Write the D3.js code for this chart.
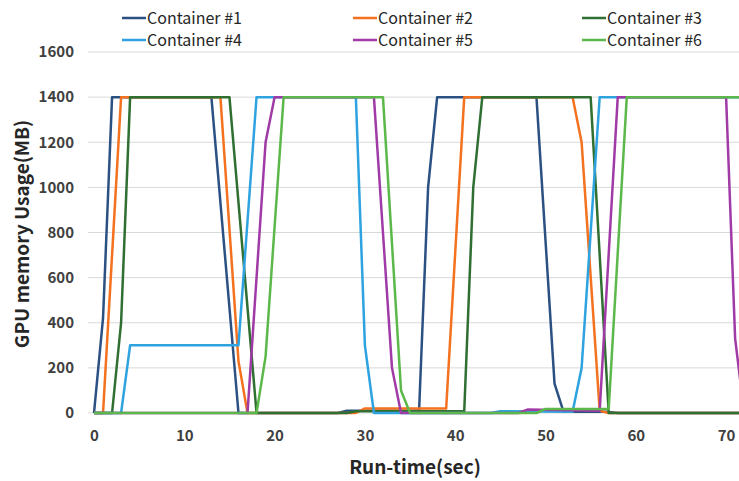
<!DOCTYPE html>
<html>
<head>
<meta charset="utf-8">
<script src="https://cdn.jsdelivr.net/npm/d3@7"></script>
<style>
  body { margin: 0; background: #fff; }
  svg { display: block; font-family: "Noto Sans CJK KR", "Open Sans", sans-serif; }
</style>
</head>
<body>
<figure id="chart" style="margin:0"></figure>
<script>
// [run-time sec, GPU memory MB]
const container1 = [[0,0],[1,420],[2,1400],[13,1400],[16,0],[27,0],[28,10],[36,10],[37,1000],[38,1400],[49,1400],[51,130],[52,5],[57,5],[58,0],[72,0]];
const container2 = [[0,0],[1,0],[2,700],[3,1400],[14,1400],[16,230],[17,0],[29,0],[30,20],[39,20],[41,1400],[53,1400],[54,1200],[56,10],[57,0],[72,0]];
const container3 = [[0,0],[2,0],[3,400],[4,1400],[15,1400],[18,0],[28,0],[29,8],[41,8],[42,1000],[43,1400],[55,1400],[57,0],[72,0]];
const container4 = [[0,0],[3,0],[4,300],[16,300],[18,1400],[29,1400],[30,300],[31,0],[44,0],[45,8],[53,5],[54,200],[56,1400],[72,1400]];
const container5 = [[0,0],[17,0],[19,1200],[20,1400],[31,1400],[33,200],[34,0],[47,0],[48,15],[56,10],[58,1400],[70,1400],[71,330],[72,0]];
const container6 = [[0,0],[18,0],[19,250],[21,1400],[32,1400],[34,100],[35,0],[49,0],[50,18],[57,18],[59,1400],[72,1400]];

const seriesNames = ["Container #1", "Container #2", "Container #3", "Container #4", "Container #5", "Container #6"];
const seriesData = [container1, container2, container3, container4, container5, container6];
const colors = ["#2b5183", "#f3711f", "#2f6f31", "#2ea3e0", "#a03aa6", "#5cb84a"];

const xTicks = [0, 10, 20, 30, 40, 50, 60, 70];
const yTicks = [0, 200, 400, 600, 800, 1000, 1200, 1400, 1600];

const width = 739, height = 481;
const plotLeft = 94, plotBottom = 413, plotTop = 52;

const svg = d3.select("#chart").append("svg")
  .attr("width", width)
  .attr("height", height);

const x = d3.scaleLinear().domain([0, 72]).range([plotLeft, plotLeft + 72 * 9.03]);
const y = d3.scaleLinear().domain([0, 1600]).range([plotBottom, plotTop]);

// gridlines
svg.append("g").selectAll("line")
  .data(yTicks)
  .enter().append("line")
  .attr("x1", 88).attr("x2", width)
  .attr("y1", d => y(d)).attr("y2", d => y(d))
  .attr("stroke", "#d9d9d9")
  .attr("stroke-width", 1);

// axes (labels only)
const yAxis = svg.append("g")
  .attr("transform", "translate(88,0)")
  .call(d3.axisLeft(y).tickValues(yTicks).tickFormat(d3.format("d")).tickSize(0).tickPadding(14));
const xAxis = svg.append("g")
  .attr("transform", "translate(0," + plotBottom + ")")
  .call(d3.axisBottom(x).tickValues(xTicks).tickFormat(d3.format("d")).tickSize(0).tickPadding(17));

[yAxis, xAxis].forEach(g => {
  g.select(".domain").remove();
  g.selectAll("text")
    .attr("font-family", "\"Noto Sans CJK KR\", \"Open Sans\", sans-serif")
    .attr("font-size", 15)
    .attr("font-weight", "bold")
    .attr("fill", "#404040");
});

// lines
const line = d3.line().x(d => x(d[0])).y(d => y(d[1]));
svg.append("g").selectAll("path")
  .data(seriesData)
  .enter().append("path")
  .attr("d", line)
  .attr("fill", "none")
  .attr("stroke", (d, i) => colors[i])
  .attr("stroke-width", 2.5)
  .attr("stroke-linejoin", "round");

// axis titles
svg.append("text")
  .attr("transform", "translate(29,234)rotate(-90)")
  .attr("text-anchor", "middle")
  .attr("font-size", 19)
  .attr("font-weight", "bold")
  .attr("fill", "#262626")
  .text("GPU memory Usage(MB)");

svg.append("text")
  .attr("x", 415).attr("y", 474)
  .attr("text-anchor", "middle")
  .attr("font-size", 19)
  .attr("font-weight", "bold")
  .attr("fill", "#262626")
  .text("Run-time(sec)");

// legend, 3 columns x 2 rows
const legendX = [122, 353, 582];
const legendY = [18, 40];
const legend = svg.append("g").selectAll("g")
  .data(seriesNames)
  .enter().append("g")
  .attr("transform", (d, i) => "translate(" + legendX[i % 3] + "," + legendY[Math.floor(i / 3)] + ")");

legend.append("line")
  .attr("x1", 0).attr("x2", 24)
  .attr("stroke", (d, i) => colors[i])
  .attr("stroke-width", 2.5);

legend.append("text")
  .attr("x", 25).attr("dy", "0.35em")
  .attr("font-size", 16)
  .attr("fill", "#262626")
  .text(d => d);
</script>
</body>
</html>
